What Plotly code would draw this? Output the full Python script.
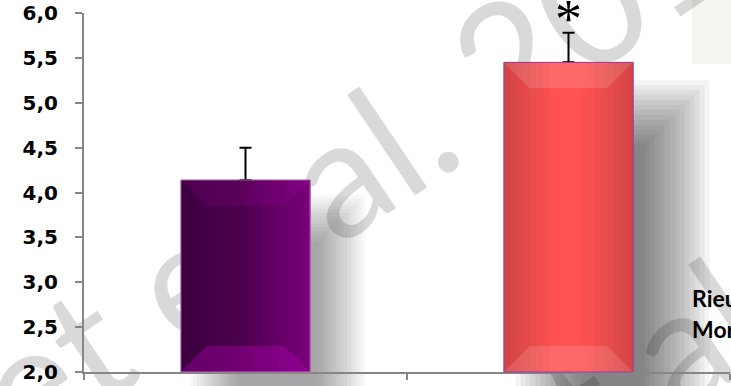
import plotly.graph_objects as go

groupes = ["Contrôle", "Traitement"]
moyennes = [4.14, 5.45]
erreurs = [0.36, 0.33]
signif = ["", "*"]
y_ticks = [2.0, 2.5, 3.0, 3.5, 4.0, 4.5, 5.0, 5.5, 6.0]
y_labels = ["2,0", "2,5", "3,0", "3,5", "4,0", "4,5", "5,0", "5,5", "6,0"]
filigrane = "Moret et al. 2013"
legende = ["Rieu et al.", "Moret et al."]

W, H = 731, 386
ML, MR, MT, MB = 84, 1, 13, 14
PW = W - ML - MR
PH = H - MT - MB
Y0, Y1 = 2.0, 6.0
BAR_W = 0.4


def px_x(x):
    # data x -> paper x
    return (x + 0.5) / 2


def px_y(v):
    return (v - Y0) / (Y1 - Y0)


def hex2rgb(h):
    h = h.lstrip("#")
    return [int(h[i:i + 2], 16) for i in (0, 2, 4)]


def grad(stops, t):
    for (t0, c0), (t1, c1) in zip(stops, stops[1:]):
        if t0 <= t <= t1:
            a, b = hex2rgb(c0), hex2rgb(c1)
            f = (t - t0) / (t1 - t0)
            return "rgb(%d,%d,%d)" % tuple(round(a[k] + (b[k] - a[k]) * f) for k in range(3))
    return stops[-1][1]


# style per bar
stops_list = [
    [(0, "#3c003e"), (0.45, "#4c004e"), (1, "#7a007c")],
    [(0, "#d04444"), (0.4, "#ff5252"), (0.6, "#ff5252"), (1, "#d24545")],
]
base_col = ["#52005a", "#f04d4d"]
edge_col = ["#b070b0", "#9a3aa0"]
bevel_top = ["rgba(200,0,200,0.12)", "rgba(255,255,255,0.13)"]
bevel_bot = ["rgba(210,0,210,0.28)", "rgba(255,255,255,0.13)"]
shadow_cfg = [  # dx, dy, blur (px), alpha
    (32, 38, 50, 0.36),
    (44, 50, 70, 0.62),
]

shapes = []

# shadows (below everything)
for i, v in enumerate(moyennes):
    dx, dy, blur, alpha = shadow_cfg[i]
    xl = px_x(i - BAR_W / 2) + dx / PW
    xr = px_x(i + BAR_W / 2) + dx / PW
    yt = px_y(v) - dy / PH
    yb = -40 / PH
    n = 14
    for k in range(n):
        off = blur * (0.5 - (k + 0.5) / n)
        shapes.append(dict(
            type="rect", xref="paper", yref="paper", layer="below",
            x0=xl - off / PW, x1=xr + off / PW, y0=yb, y1=yt + off / PH,
            fillcolor="black", opacity=alpha / n, line=dict(width=0),
        ))

# faint box top right
shapes.append(dict(type="rect", xref="paper", yref="paper", layer="below",
                   x0=(693 - ML) / PW, x1=1.02, y0=(H - MB - 63) / PH, y1=1.05,
                   fillcolor="#f5f5f2", line=dict(color="#ebebe6", width=1)))

# watermark lines (drawn below bars)
for cx, cy in [(262, 219), (603, 389)]:
    px0 = (cx - ML) / PW
    py0 = (H - MB - cy) / PH
    shapes.append(dict(
        type="line", xref="paper", yref="paper", layer="below",
        x0=px0 - 0.005, x1=px0 + 0.005, y0=py0, y1=py0,
        line=dict(color="rgba(0,0,0,0)", width=1),
        label=dict(text=filigrane, textangle=-34, textposition="middle",
                   xanchor="center", yanchor="middle", padding=0,
                   font=dict(family="Lato", size=165, color="rgba(0,0,0,0.15)")),
    ))

# bar gradients, bevels, outlines (above the bar trace)
for i, v in enumerate(moyennes):
    xl = px_x(i - BAR_W / 2)
    xr = px_x(i + BAR_W / 2)
    yt = px_y(v)
    n = 20
    for k in range(n):
        shapes.append(dict(
            type="rect", xref="paper", yref="paper", layer="above",
            x0=xl + (xr - xl) * k / n, x1=xl + (xr - xl) * (k + 1) / n + 0.0005,
            y0=0, y1=yt, fillcolor=grad(stops_list[i], (k + 0.5) / n), line=dict(width=0),
        ))
    bx, by = 26 / PW, 26 / PH
    shapes.append(dict(type="path", xref="paper", yref="paper", layer="above",
                       path=f"M{xl},{yt} L{xr},{yt} L{xr - bx},{yt - by} L{xl + bx},{yt - by} Z",
                       fillcolor=bevel_top[i], line=dict(width=0)))
    shapes.append(dict(type="path", xref="paper", yref="paper", layer="above",
                       path=f"M{xl},0 L{xr},0 L{xr - bx},{by} L{xl + bx},{by} Z",
                       fillcolor=bevel_bot[i], line=dict(width=0)))
    shapes.append(dict(type="rect", xref="paper", yref="paper", layer="above",
                       x0=xl, x1=xr, y0=0, y1=yt, fillcolor="rgba(0,0,0,0)",
                       line=dict(color=edge_col[i], width=1)))

fig = go.Figure(go.Bar(
    x=[0, 1], y=moyennes, width=BAR_W, hovertext=groupes,
    marker=dict(color=base_col, line=dict(width=0)),
    error_y=dict(type="data", symmetric=False, array=erreurs,
                 arrayminus=[0] * len(erreurs), color="black", thickness=2, width=6),
))

annotations = []
for i, s in enumerate(signif):
    if s:
        annotations.append(dict(
            x=i, y=moyennes[i] + erreurs[i], xref="x", yref="y", text=s, showarrow=False,
            yanchor="bottom", yshift=-18, font=dict(family="Liberation Serif", size=54, color="black"),
        ))
for j, t in enumerate(legende):
    annotations.append(dict(
        x=(690 - ML) / PW, y=(H - MB - (298 + j * 31)) / PH, xref="paper", yref="paper",
        text=f"<b>{t}</b>", showarrow=False, xanchor="left", yanchor="middle",
        font=dict(family="Lato", size=23, color="black"),
    ))

fig.update_layout(
    width=W, height=H,
    margin=dict(l=ML, r=MR, t=MT, b=MB),
    paper_bgcolor="white", plot_bgcolor="rgba(0,0,0,0)",
    showlegend=False,
    shapes=shapes,
    annotations=annotations,
    xaxis=dict(range=[-0.5, 1.5], tickvals=[-0.5, 0.5, 1.5], showticklabels=False,
               ticks="outside", ticklen=6, tickwidth=1.5, tickcolor="#868686",
               showline=True, linecolor="#868686", linewidth=2, showgrid=False,
               zeroline=False, fixedrange=True),
    yaxis=dict(range=[Y0, Y1], tickvals=y_ticks, ticktext=y_labels,
               ticks="outside", ticklen=7, tickwidth=1.5, tickcolor="#868686",
               showline=True, linecolor="#868686", linewidth=2, showgrid=False,
               zeroline=False, ticklabelstandoff=13,
               tickfont=dict(family="DejaVu Sans", size=20, color="black", weight="bold")),
)

# page body has an 8px default margin; drop it so the chart sits at 0,0
fig.write_html("out.html", config={"displayModeBar": False},
               post_script="document.body.style.margin='0';")
